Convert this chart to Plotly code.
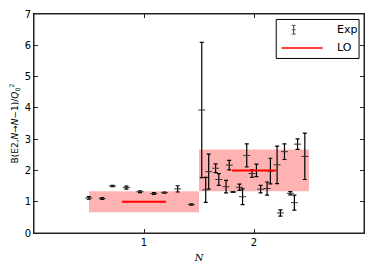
import plotly.graph_objects as go

# Experimental data (N, B(E2)/Q0^2, error)
exp_N = [0.498, 0.62, 0.714, 0.84, 0.964, 1.09, 1.186, 1.306, 1.43,
         1.525, 1.561, 1.588, 1.651, 1.680, 1.746, 1.775, 1.810, 1.868, 1.896,
         1.934, 1.982, 2.022, 2.060, 2.119, 2.149, 2.210, 2.240, 2.277, 2.330,
         2.367, 2.396, 2.462]
exp_val = [1.12, 1.10, 1.50, 1.45, 1.32, 1.26, 1.29, 1.41, 0.91,
           3.93, 1.38, 1.96, 2.07, 1.71, 1.48, 2.17, 1.31, 1.46, 1.16,
           2.48, 1.90, 2.00, 1.40, 1.42, 1.98, 2.18, 0.64, 2.60, 1.27,
           0.97, 2.84, 2.45]
exp_err = [0.04, 0.03, 0.02, 0.05, 0.03, 0.03, 0.02, 0.10, 0.02,
           2.16, 0.40, 0.56, 0.14, 0.19, 0.20, 0.15, 0.01, 0.10, 0.25,
           0.37, 0.12, 0.20, 0.12, 0.21, 0.41, 0.60, 0.10, 0.25, 0.05,
           0.24, 0.17, 0.74]

# LO prediction and uncertainty band
lo_N = [1, 2]
lo_val = [1.0, 2.0]
lo_band_frac = 1.0 / 3.0
band_halfwidth = 0.5
line_halfwidth = 0.2

fig = go.Figure()

for n, v in zip(lo_N, lo_val):
    lo, hi = v * (1 - lo_band_frac), v * (1 + lo_band_frac)
    fig.add_trace(go.Scatter(
        x=[n - band_halfwidth, n + band_halfwidth, n + band_halfwidth, n - band_halfwidth, n - band_halfwidth],
        y=[lo, lo, hi, hi, lo], mode="lines", fill="toself",
        fillcolor="rgba(255,0,0,0.3)", line=dict(width=0), showlegend=False, hoverinfo="skip"))

fig.add_trace(go.Scatter(
    x=exp_N, y=exp_val, mode="markers", name="Exp",
    marker=dict(symbol="line-ew", size=5, line=dict(color="#333", width=1)),
    error_y=dict(type="data", array=exp_err, color="black", thickness=1.2, width=2),
    showlegend=False))

for i, (n, v) in enumerate(zip(lo_N, lo_val)):
    fig.add_trace(go.Scatter(
        x=[n - line_halfwidth, n + line_halfwidth], y=[v, v], mode="lines",
        line=dict(color="red", width=2), showlegend=False, name="LO"))

# Frame and legend (drawn in paper coordinates)
shapes = [
    dict(type="rect", xref="paper", yref="paper", x0=0, x1=1, y0=0, y1=1,
         line=dict(color="#222", width=1), layer="above"),
    dict(type="rect", xref="paper", yref="paper", x0=0.734, x1=0.985, y0=0.797, y1=0.975,
         line=dict(color="black", width=1), fillcolor="white", layer="above"),
    dict(type="line", xref="paper", yref="paper", x0=0.787, x1=0.787, y0=0.908, y1=0.948,
         line=dict(color="#333", width=1), layer="above"),
    dict(type="line", xref="paper", yref="paper", x0=0.781, x1=0.793, y0=0.948, y1=0.948,
         line=dict(color="#555", width=1), layer="above"),
    dict(type="line", xref="paper", yref="paper", x0=0.781, x1=0.793, y0=0.908, y1=0.908,
         line=dict(color="#555", width=1), layer="above"),
    dict(type="line", xref="paper", yref="paper", x0=0.781, x1=0.793, y0=0.928, y1=0.928,
         line=dict(color="#555", width=1), layer="above"),
    dict(type="line", xref="paper", yref="paper", x0=0.75, x1=0.875, y0=0.845, y1=0.845,
         line=dict(color="red", width=1.5), layer="above"),
]
annotations = [
    dict(text="Exp", xref="paper", yref="paper", x=0.912, y=0.928, xanchor="left", yanchor="middle",
         showarrow=False, font=dict(size=11, color="black")),
    dict(text="LO", xref="paper", yref="paper", x=0.912, y=0.845, xanchor="left", yanchor="middle",
         showarrow=False, font=dict(size=11, color="black")),
]

axis_common = dict(showline=True, linecolor="#222", linewidth=1, mirror="allticks",
                   ticks="inside", ticklen=4, tickcolor="#222", showgrid=False, zeroline=False,
                   tickfont=dict(size=10, color="black"))

fig.update_layout(
    width=373, height=269,
    margin=dict(l=34, r=8, t=12, b=36),
    plot_bgcolor="white", paper_bgcolor="white",
    font=dict(family="DejaVu Sans", size=10, color="black"),
    shapes=shapes, annotations=annotations,
    xaxis=dict(range=[0, 3], tickvals=[1, 2], ticktext=["1", "2"],
               title=dict(text="<i>N</i>", font=dict(size=10, family="DejaVu Serif"), standoff=6),
               **axis_common),
    yaxis=dict(range=[0, 7], tickvals=[0, 1, 2, 3, 4, 5, 6, 7],
               title=dict(text="B(E2,<i>N</i>\u2192<i>N</i>\u22121)/<i>Q</i><sub>0</sub><sup>2</sup>",
                          font=dict(size=9), standoff=4),
               **axis_common),
    showlegend=False,
)

fig.write_html("out.html", config={"displayModeBar": False})

# remove default page margin so the figure sits at the window origin
with open("out.html", "r", encoding="utf-8") as f:
    html = f.read()
html = html.replace("<head>", "<head><style>html,body{margin:0;padding:0;overflow:hidden;}</style>", 1)
with open("out.html", "w", encoding="utf-8") as f:
    f.write(html)
